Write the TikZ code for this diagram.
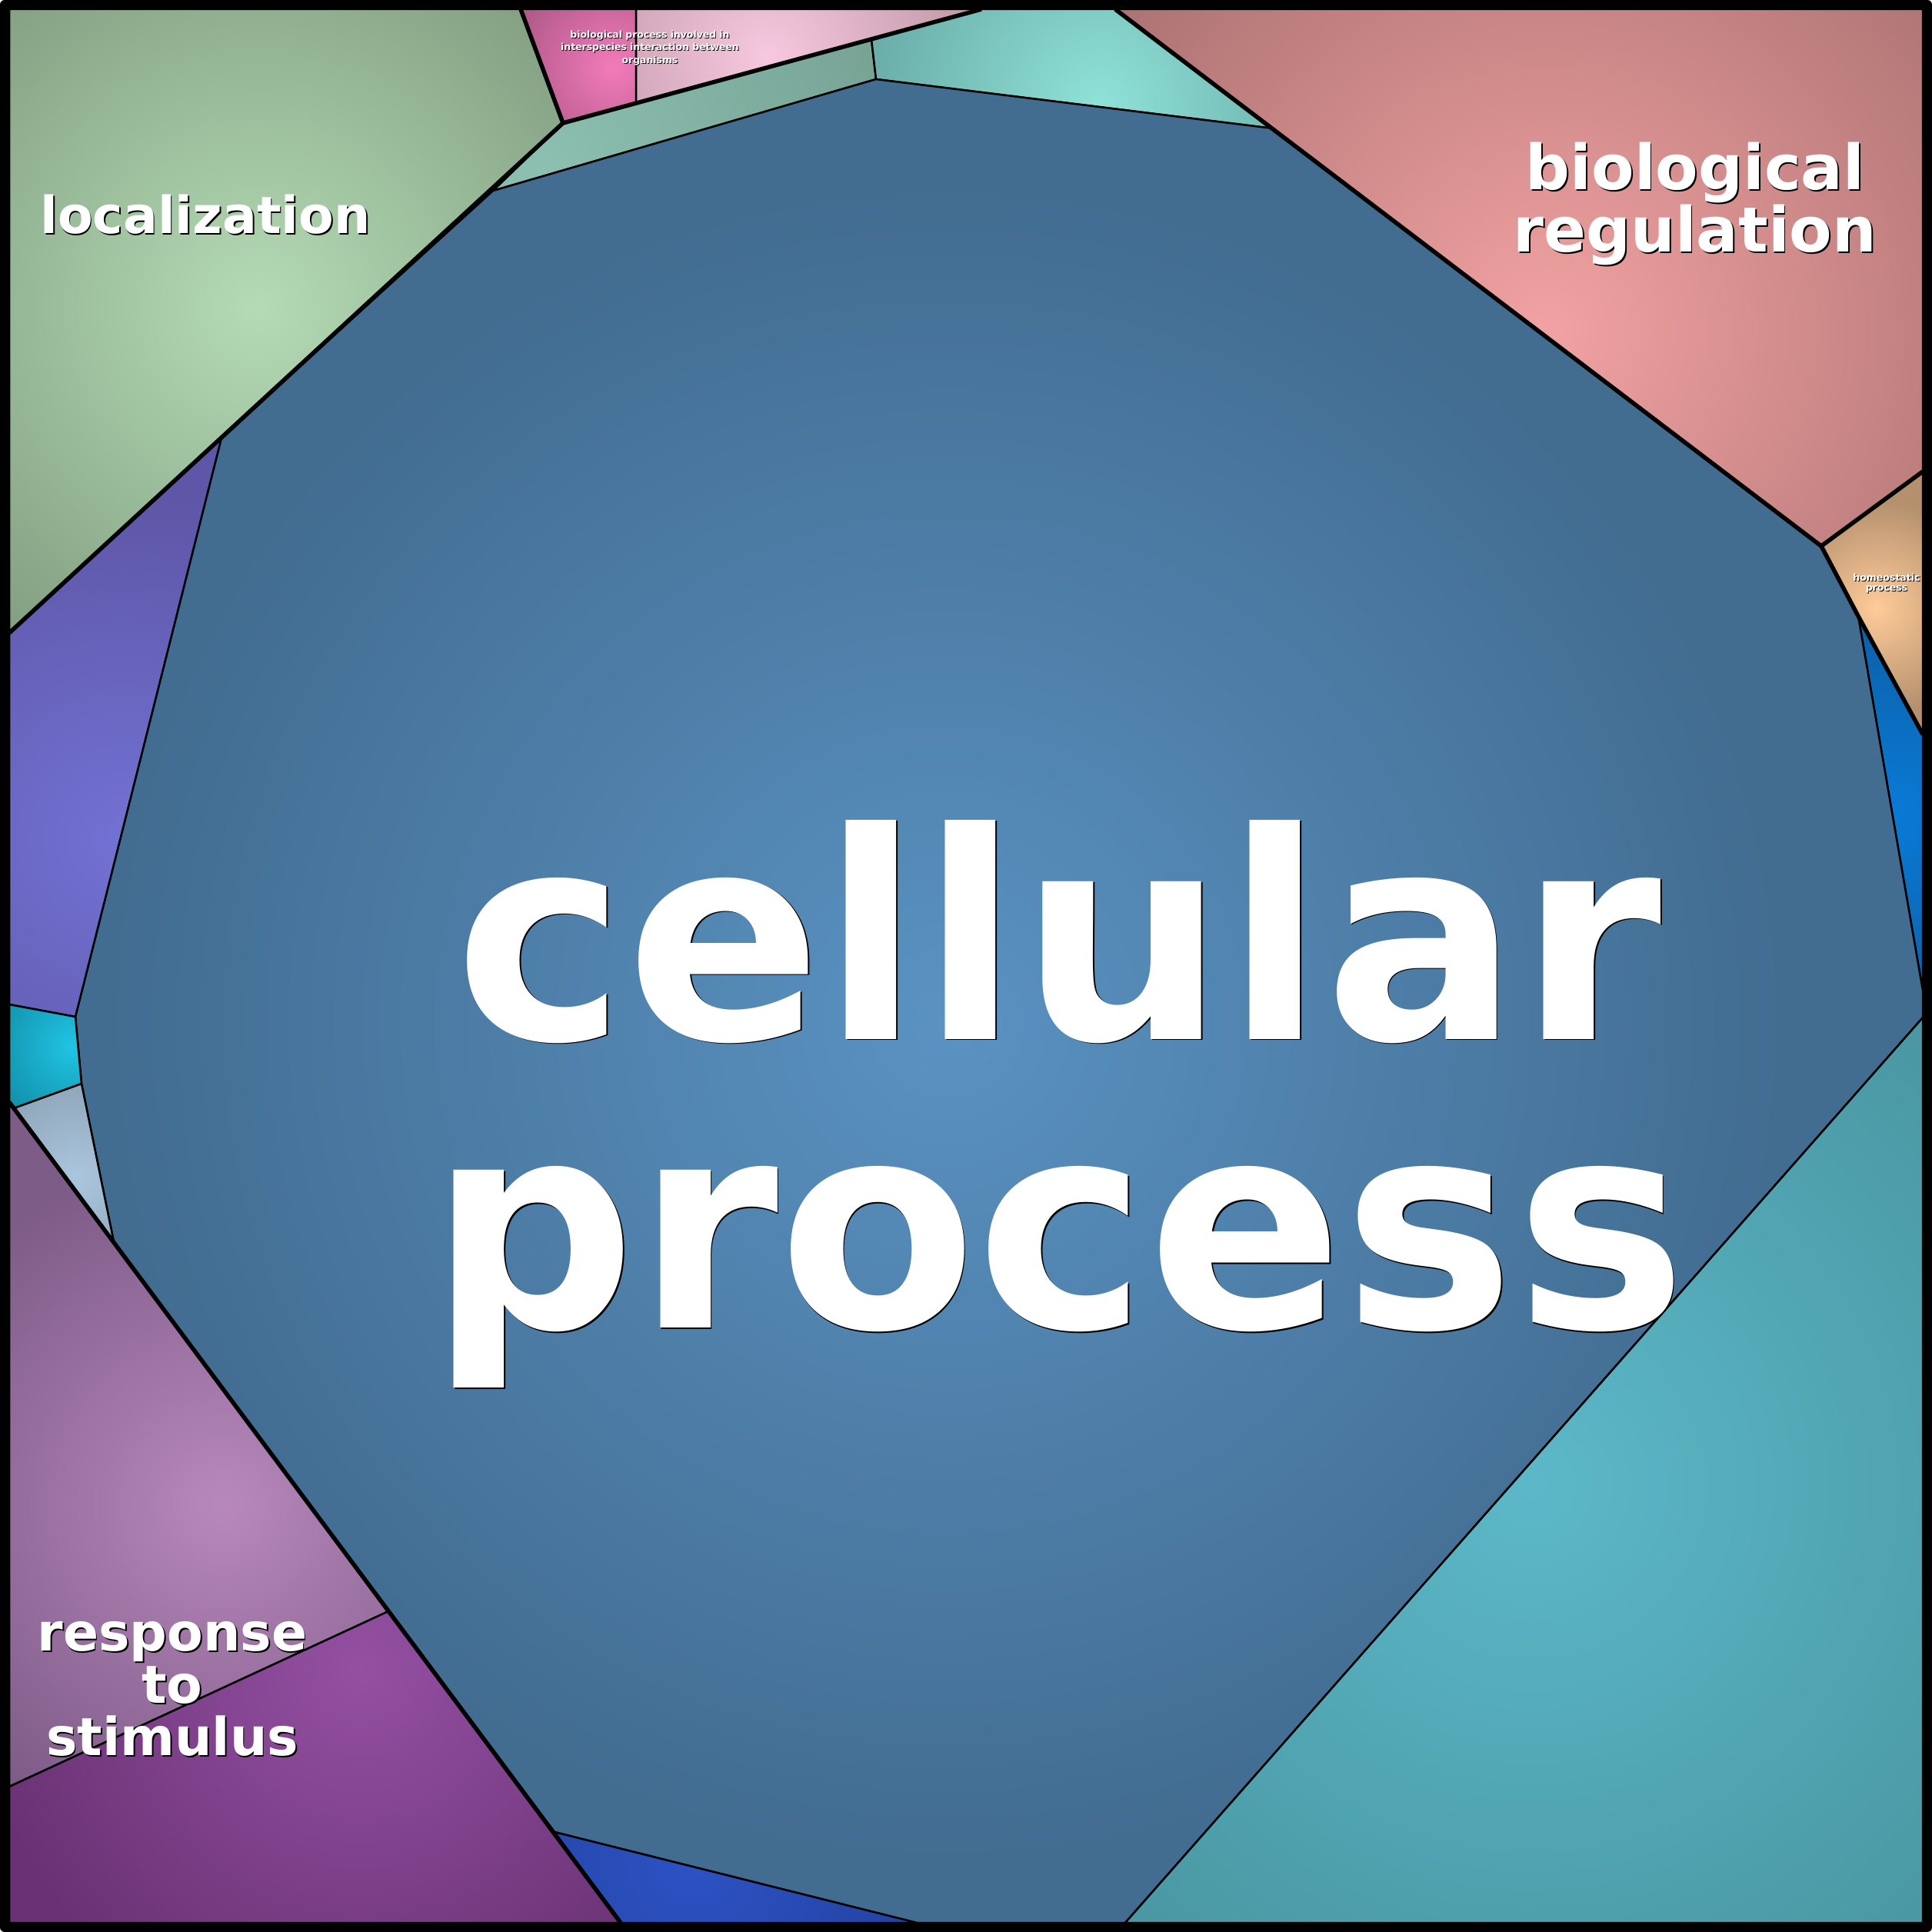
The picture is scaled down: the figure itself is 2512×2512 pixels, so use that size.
\documentclass[tikz,border=0pt]{standalone}
\usepackage{fontspec}
\setmainfont{DejaVu Sans}
\usepackage{tikz}

\definecolor{locin}{HTML}{B4DBB4}   \definecolor{locout}{HTML}{819D80}
\definecolor{pkain}{HTML}{F27BBA}   \definecolor{pkaout}{HTML}{B25A8A}
\definecolor{pkbin}{HTML}{F7C8DF}   \definecolor{pkbout}{HTML}{B8909F}
\definecolor{grnin}{HTML}{8CC0B0}   \definecolor{grnout}{HTML}{78A496}
\definecolor{tltin}{HTML}{8FE2D8}   \definecolor{tltout}{HTML}{68AAA6}
\definecolor{regin}{HTML}{F2A2A2}   \definecolor{regout}{HTML}{AC7272}
\definecolor{homin}{HTML}{FECB98}   \definecolor{homout}{HTML}{B4906E}
\definecolor{brtin}{HTML}{0A7AD6}   \definecolor{brtout}{HTML}{0B62AA}
\definecolor{celin}{HTML}{5A92C2}   \definecolor{celout}{HTML}{426C90}
\definecolor{tbgin}{HTML}{5CB8C8}   \definecolor{tbgout}{HTML}{4A98A4}
\definecolor{prpin}{HTML}{7272D4}   \definecolor{prpout}{HTML}{5E56A6}
\definecolor{cyain}{HTML}{20C4E4}   \definecolor{cyaout}{HTML}{1290AA}
\definecolor{lbuin}{HTML}{AAC6DE}   \definecolor{lbuout}{HTML}{8A9FB2}
\definecolor{rsain}{HTML}{B888BC}   \definecolor{rsaout}{HTML}{7E5C88}
\definecolor{rsbin}{HTML}{9450A2}   \definecolor{rsbout}{HTML}{6A3274}
\definecolor{bbtin}{HTML}{2C52C4}   \definecolor{bbtout}{HTML}{2442A2}

\newcommand{\shadowed}[2][0.5pt]{\makebox[0pt][l]{\kern#1\raisebox{-#1}{\color{black}#2}}#2}
\newcommand{\vcell}[5]{%
  \fill[#3] #1;
  \begin{scope}
    \clip #1;
    \shade[inner color=#2, outer color=#3] #4 circle (#5);
  \end{scope}
  \draw[thin edge] #1;}

\tikzset{
  thin edge/.style={line width=0.025cm, line join=round},
  thick edge/.style={line width=0.055cm, line join=round},
  celltext/.style={text=white, inner sep=0pt, align=center,
    font=\bfseries\fontsize{#1}{#1}\selectfont}
}

\begin{document}
\begin{tikzpicture}[x=0.01cm, y=-0.01cm]
\useasboundingbox (0,0) rectangle (2512,2512);

\coordinate (nw) at (12,12);     \coordinate (ne) at (2500,12);
\coordinate (se) at (2500,2500); \coordinate (sw) at (12,2500);
\coordinate (locA) at (677,12);  \coordinate (locB) at (732,160);
\coordinate (locC) at (12,823);
\coordinate (pinkA) at (827,12); \coordinate (pinkB) at (827,134);
\coordinate (grpA) at (1276,12);
\coordinate (tealA) at (1133,51); \coordinate (tealB) at (1139,103);
\coordinate (regA) at (1450,12);  \coordinate (regB) at (1655,167);
\coordinate (regC) at (2368,710); \coordinate (regD) at (2500,613);
\coordinate (homA) at (2416,801); \coordinate (homB) at (2500,955);
\coordinate (rgtA) at (2500,1288); \coordinate (rgtB) at (2500,1323);
\coordinate (botA) at (1463,2500); \coordinate (botB) at (1192,2500);
\coordinate (botC) at (721,2382);  \coordinate (botD) at (807,2500);
\coordinate (rspA) at (12,1433);   \coordinate (rspB) at (505,2095);
\coordinate (rspC) at (12,2323);
\coordinate (lftA) at (148,1615);  \coordinate (lftB) at (106,1409);
\coordinate (lftC) at (98,1322);   \coordinate (lftD) at (288,569);
\coordinate (lftE) at (12,1306);   \coordinate (lftF) at (18,1441);
\coordinate (cenA) at (641,248);

% cells
\vcell{(nw) -- (locA) -- (locB) -- (locC) -- cycle}{locin}{locout}{(336,400)}{5.5cm}
\vcell{(locA) -- (pinkA) -- (pinkB) -- (locB) -- cycle}{pkain}{pkaout}{(797,87)}{1.3cm}
\vcell{(pinkA) -- (grpA) -- (pinkB) -- cycle}{pkbin}{pkbout}{(998,73)}{3.2cm}
\vcell{(locB) -- (tealA) -- (tealB) -- (cenA) -- cycle}{grnin}{grnout}{(700,220)}{4.5cm}
\vcell{(tealA) -- (grpA) -- (regA) -- (regB) -- (tealB) -- cycle}{tltin}{tltout}{(1430,135)}{3.2cm}
\vcell{(regA) -- (ne) -- (regD) -- (regC) -- cycle}{regin}{regout}{(2010,430)}{7cm}
\vcell{(regC) -- (regD) -- (homB) -- (homA) -- cycle}{homin}{homout}{(2440,790)}{1.4cm}
\vcell{(homA) -- (homB) -- (rgtA) -- cycle}{brtin}{brtout}{(2460,1060)}{2.4cm}
\vcell{(cenA) -- (tealB) -- (regB) -- (regC) -- (homA) -- (rgtA) -- (rgtB) -- (botA) -- (botB)
  -- (botC) -- (lftA) -- (lftB) -- (lftC) -- (lftD) -- cycle}{celin}{celout}{(1230,1330)}{11cm}
\vcell{(rgtB) -- (se) -- (botA) -- cycle}{tbgin}{tbgout}{(1990,1930)}{7.5cm}
\vcell{(botC) -- (botD) -- (botB) -- cycle}{bbtin}{bbtout}{(900,2420)}{3cm}
\vcell{(rspA) -- (rspB) -- (rspC) -- cycle}{rsain}{rsaout}{(290,1955)}{4.5cm}
\vcell{(rspC) -- (rspB) -- (botD) -- (sw) -- cycle}{rsbin}{rsbout}{(470,2170)}{5cm}
\vcell{(locC) -- (lftD) -- (lftC) -- (lftE) -- cycle}{prpin}{prpout}{(160,1090)}{4.5cm}
\vcell{(lftE) -- (lftC) -- (lftB) -- (lftF) -- (rspA) -- cycle}{cyain}{cyaout}{(95,1360)}{1.1cm}
\vcell{(lftF) -- (lftB) -- (lftA) -- cycle}{lbuin}{lbuout}{(100,1530)}{1.5cm}

% top level borders
\draw[thick edge] (locA) -- (locB) -- (locC);
\draw[thick edge] (locB) -- (grpA);
\draw[thick edge] (regA) -- (regC) -- (regD);
\draw[thick edge] (regC) -- (homA) -- (homB);
\draw[thick edge] (rspA) -- (botD);
\draw[line width=0.12cm, line join=round] (6,6) rectangle (2506,2506);

\node (cellular) [celltext=106.7pt] at (1376,1436) {\shadowed{cellular}\\\shadowed{process}};
\node (regulation) [celltext=23pt] at (2204,266) {\shadowed{biological}\\\shadowed{regulation}};
\node (localization) [celltext=18.9pt] at (267,280) {\shadowed{localization}};
\node (response) [celltext=19.35pt] at (224,2197) {\shadowed{response}\\\shadowed{to}\\\shadowed{stimulus}};
\node (interspecies) [celltext=3.53pt] at (845,63) {\shadowed[0.25pt]{biological process involved in}\\\shadowed[0.25pt]{interspecies interaction between}\\\shadowed[0.25pt]{organisms}};
\node (homeostatic) [celltext=3.56pt] at (2453,759) {\shadowed[0.25pt]{homeostatic}\\\shadowed[0.25pt]{process}};
\end{tikzpicture}
\end{document}
